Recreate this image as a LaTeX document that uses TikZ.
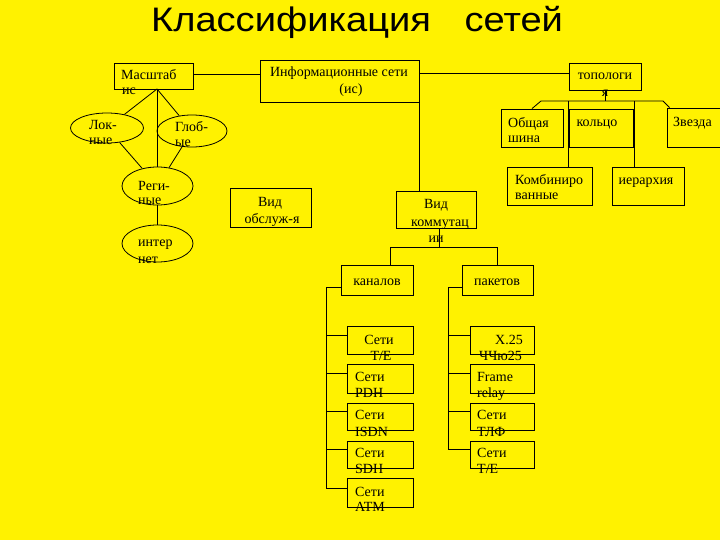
\documentclass[tikz,border=0pt]{standalone}
\usepackage{fontspec}
\setmainfont{Liberation Serif}
\newfontfamily\titlefont{Liberation Sans}
\usetikzlibrary{shapes.geometric,calc}
\newcommand\mybox[5]{\node[box, minimum width={(#4)-(#2)}, minimum height={(#5)-(#3)}] (#1) at ({((#2)+(#4))/2},{((#3)+(#5))/2}) {};}
\begin{document}
\begin{tikzpicture}[x=1pt,y=-1pt,
  box/.style={draw, rectangle, line width=0.8pt, inner sep=0pt},
  ell/.style={draw, ellipse, line width=0.8pt, inner sep=0pt},
  conn/.style={line width=0.8pt},
  txt/.style={inner sep=0pt, font=\fontsize{14}{14}\selectfont, anchor=base west},
  ctxt/.style={txt, anchor=base}]
\fill[yellow] (0,0) rectangle (720,540);
\useasboundingbox (0,0) rectangle (720,540);
\clip (0,0) rectangle (720,540);

% title
\node[font=\titlefont\fontsize{34}{34}\selectfont, anchor=base, inner sep=0pt] (title) at (357,32) {\scalebox{1.12}[1]{Классификация\hspace{0.6em} сетей}};

% boxes
\mybox{mas}{114}{63}{193}{89}
\mybox{inf}{260}{60}{419}{102}
\mybox{top}{569}{63}{641}{90}
\mybox{obsh}{501}{109}{563}{147}
\mybox{kol}{569}{109}{633}{147}
\mybox{zv}{667}{108}{730}{147}
\mybox{komb}{507}{167}{592}{205}
\mybox{ier}{612}{167}{684}{205}
\mybox{obsl}{230}{188}{311}{227}
\mybox{kom}{396}{191}{476}{228}
\mybox{kan}{341}{265}{413}{295}
\mybox{pak}{462}{265}{533}{295}
\mybox{te}{347}{326}{413}{354}
\mybox{pdh}{347}{364}{413}{393}
\mybox{isdn}{347}{403}{413}{430}
\mybox{sdh}{347}{441}{413}{468}
\mybox{atm}{347}{478}{413}{507}
\mybox{xtf}{470}{326}{534}{354}
\mybox{fr}{470}{364}{534}{393}
\mybox{tlf}{470}{403}{534}{430}
\mybox{tet}{470}{441}{534}{468}

% ellipses
\node[ell, minimum width=73, minimum height=30] (lok) at (107,128) {};
\node[ell, minimum width=70, minimum height=32] (glob) at (192,131) {};
\node[ell, minimum width=71, minimum height=38] (reg) at (157.5,186) {};
\node[ell, minimum width=71, minimum height=37] (int) at (157.5,243.5) {};

% connectors left
\coordinate (m) at (157,89);
\draw[conn] (m) -- (lok);
\draw[conn] (m) -- (glob);
\draw[conn] (m) -- (m |- reg.north);
\draw[conn] (lok) -- (reg);
\draw[conn] (glob) -- (reg);
\draw[conn] (reg) -- (int);
\draw[conn] ([yshift=2pt]mas.east) -- ([yshift=2pt]mas.east -| inf.west);
\draw[conn] ([yshift=3pt]top.west) -- ([yshift=3pt]top.west -| inf.east);

% topology
\coordinate (busl) at (541,101);
\coordinate (busr) at (663,101);
\coordinate (v2) at (634,101);
\draw[conn] (top.south) -- (top.south |- busl);
\draw[conn] (obsh.north) -- (busl) -- (busr) -- ([xshift=3pt]zv.north west);
\draw[conn] (busl -| kol.west) -- (kol.west |- komb.north);
\draw[conn] (v2) -- (v2 |- ier.north);

% switching
\draw[conn] (inf.south east) -- (inf.south east |- kom.north);
\coordinate (kb) at (439,247);
\coordinate (hl) at (390,247);
\draw[conn] (kom.south -| kb) -- (kb);
\draw[conn] (hl |- kan.north) -- (hl) -- (pak.north |- kb) -- (pak.north);

% channel bus
\coordinate (kl) at ($(kan.west)+(0,7)$);
\coordinate (lbt) at (326,287);
\coordinate (pl) at ($(pak.west)+(0,7)$);
\coordinate (rbt) at (448,287);
\draw[conn] (kl) -- (lbt) -- (lbt |- {$(atm.west)+(0,-4.5)$}) -- ($(atm.west)+(0,-4.5)$);
\foreach \c in {te,pdh,isdn,sdh}{
  \draw[conn] ($(\c.west)+(0,-5)$) -- (lbt |- {$(\c.west)+(0,-5)$});
}
\draw[conn] (pl) -- (rbt) -- (rbt |- {$(tet.west)+(0,-5)$}) -- ($(tet.west)+(0,-5)$);
\foreach \c in {xtf,fr,tlf}{
  \draw[conn] ($(\c.west)+(0,-5)$) -- (rbt |- {$(\c.west)+(0,-5)$});
}

% texts
\node[txt] (t1) at (121,80) {Масштаб};
\node[txt] (t2) at (122,95) {ис};
\node[ctxt] (t3) at (339,77) {Информационные сети};
\node[ctxt] (t4) at (351,94) {(ис)};
\node[ctxt] (t5) at (605,80) {топологи};
\node[ctxt] (t6) at (605,97) {я};
\node[txt] (t7) at (508,128) {Общая};
\node[txt] (t8) at (508,143) {шина};
\node[ctxt] (t9) at (597,127) {кольцо};
\node[txt] (t10) at (673,127) {Звезда};
\node[txt] (t11) at (515,185) {Комбиниро};
\node[txt] (t12) at (515,200) {ванные};
\node[ctxt] (t13) at (646,185) {иерархия};
\node[txt] (t14) at (89,130) {Лок-};
\node[txt] (t15) at (89,145) {ные};
\node[txt] (t16) at (175,132) {Глоб-};
\node[txt] (t17) at (175,147) {ые};
\node[txt] (t18) at (138,191) {Реги-};
\node[txt] (t19) at (138,205) {ные};
\node[txt] (t20) at (138,247) {интер};
\node[txt] (t21) at (138,263) {нет};
\node[ctxt] (t22) at (270,207) {Вид};
\node[ctxt] (t23) at (272,223) {обслуж-я};
\node[ctxt] (t24) at (436,209) {Вид};
\node[ctxt] (t25) at (440,226) {коммутац};
\node[ctxt] (t26) at (436,242) {ии};
\node[ctxt] (t27) at (377,285) {каналов};
\node[ctxt] (t28) at (497,285) {пакетов};
\node[ctxt] (t29) at (379,344) {Сети};
\node[ctxt] (t30) at (381,360) {T/E};
\node[txt] (t31) at (355,381) {Сети};
\node[txt] (t32) at (355,397) {PDH};
\node[txt] (t33) at (355,419) {Сети};
\node[txt] (t34) at (355,436) {ISDN};
\node[txt] (t35) at (355,457) {Сети};
\node[txt] (t36) at (355,473) {SDH};
\node[txt] (t37) at (355,496) {Сети};
\node[txt] (t38) at (355,511) {ATM};
\node[txt] (t39) at (495,344) {X.25};
\node[txt] (t40) at (479,360) {ЧЧю25};
\node[txt] (t41) at (477,381) {Frame};
\node[txt] (t42) at (477,397) {relay};
\node[txt] (t43) at (477,419) {Сети};
\node[txt] (t44) at (477,436) {ТЛФ};
\node[txt] (t45) at (477,457) {Сети};
\node[txt] (t46) at (477,473) {Т/Е};
\end{tikzpicture}
\end{document}
